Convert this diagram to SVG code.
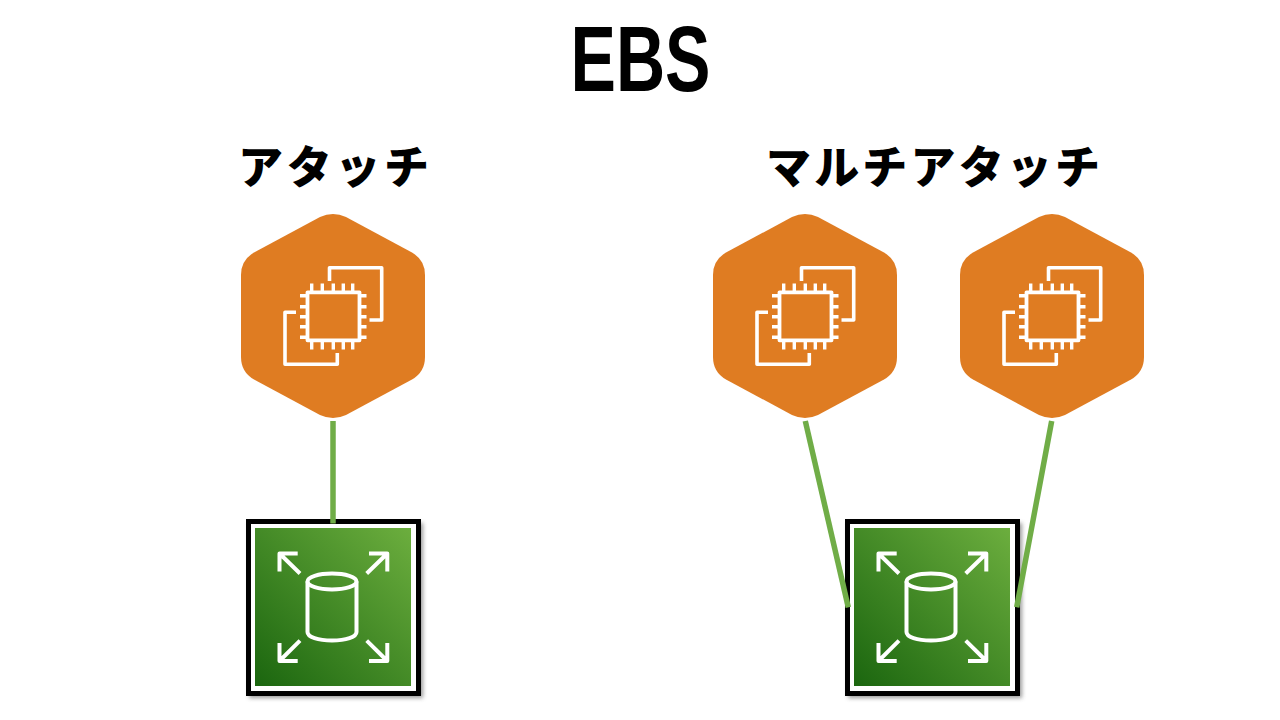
<svg xmlns="http://www.w3.org/2000/svg" width="1280" height="720" viewBox="0 0 1280 720">
<style>
.title{font-family:"Liberation Sans",Arial,sans-serif;font-weight:700;font-size:92px;fill:#000}
.head{font-family:"Noto Sans CJK JP",sans-serif;font-weight:900;font-size:45px;fill:#000}
.w{fill:none;stroke:#fff;stroke-linejoin:round}
.conn{stroke:#70AD47;stroke-width:5.5;fill:none}
</style>
<defs>
<linearGradient id="g" x1="0" y1="1" x2="1" y2="0"><stop offset="0" stop-color="#1B660F"/><stop offset="1" stop-color="#6CAE3E"/></linearGradient>
<filter id="s" x="-10%" y="-10%" width="125%" height="125%"><feGaussianBlur stdDeviation="2"/></filter>
<g id="ec2">
<path fill="#DF7C22" d="M241 275Q241 260 254 252.500L320 217Q333 211 346 217L412 252.500Q425 260 425 275V357Q425 372 412 379.500L346 415Q333 421 320 415L254 379.500Q241 372 241 357Z"/>
<path class="w" stroke-width="3.600" d="M329.500 281V267.700H381.700V320H369.500M296 312.300H285V364.300H337.300V353"/>
<rect class="w" stroke-width="3.800" x="307.500" y="292.300" width="52" height="48"/>
<path class="w" stroke-width="3.400" d="M311.700 283.500V292M322.300 283.500V292M333.300 283.500V292M343.300 283.500V292M352.700 283.500V292M311.700 340V349.500M322.300 340V349.500M333.300 340V349.500M343.300 340V349.500M352.700 340V349.500M300 295.700H307M300 306.700H307M300 316.700H307M300 326.700H307M300 337.300H307M360 295.700H366.500M360 306.700H366.500M360 316.700H366.500M360 326.700H366.500M360 337.300H366.500"/>
</g>
<g id="ebs">
<rect x="249" y="523" width="174" height="175" fill="#555" opacity=".6" filter="url(#s)"/>
<rect x="248.500" y="521.500" width="170" height="172" fill="#fff" stroke="#000" stroke-width="5"/>
<rect x="255" y="528" width="156" height="158" fill="url(#g)"/>
<path class="w" stroke-width="4" d="M297.700 553.500H279.500V571.500M279.500 553.500L300 573.500M369 553.500H387.300V571.500M387.300 553.500L366.700 573.500M279.500 643V661H297.700M279.500 661L300 640.700M387.300 643V661H369M387.300 661L366.700 640.700"/>
<path class="w" stroke-width="4" d="M307.500 581.500V632C307.500 637 318 640.500 332 640.500S356.500 637 356.500 632V581.500"/>
<ellipse class="w" stroke-width="4" cx="332" cy="581.500" rx="24.500" ry="8"/>
</g>
</defs>
<text class="title" x="570.500" y="90.500" textLength="140" lengthAdjust="spacingAndGlyphs">EBS</text>
<text class="head" x="238" y="184" textLength="191" lengthAdjust="spacing">アタッチ</text>
<text class="head" x="766" y="184" textLength="334" lengthAdjust="spacing">マルチアタッチ</text>
<g id="node-ec2-a"><use href="#ec2"/></g>
<g id="node-ec2-b"><use href="#ec2" x="472"/></g>
<g id="node-ec2-c"><use href="#ec2" x="719"/></g>
<g id="node-ebs-a"><use href="#ebs"/></g>
<g id="node-ebs-b"><use href="#ebs" x="599"/></g>
<g id="connectors" class="conn">
<path d="M333 421V523.500"/>
<path d="M805.300 421L848.300 607.300"/>
<path d="M1051.700 421L1016.700 607.300"/>
</g>
</svg>
